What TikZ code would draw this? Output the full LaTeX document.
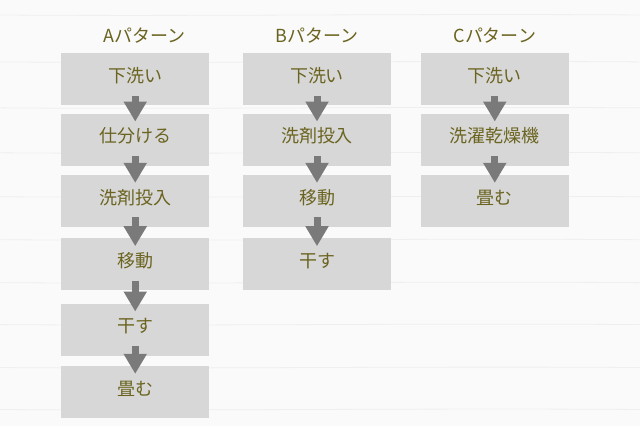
\documentclass[tikz,border=0pt]{standalone}
\usepackage{fontspec}
\setmainfont{Noto Sans CJK JP}
\usetikzlibrary{positioning,arrows.meta}
\definecolor{boxgray}{HTML}{D7D7D7}
\definecolor{textolive}{HTML}{6B6420}
\definecolor{arrowgray}{HTML}{7A7A7A}
\definecolor{wallwhite}{HTML}{FAFAFA}
\definecolor{wallline}{HTML}{EFEFEF}

\begin{document}
\begin{tikzpicture}[x=1pt,y=-1pt,
  taskbox/.style={fill=boxgray,minimum width=148pt,minimum height=52pt,inner sep=0pt,
    text=textolive,font=\fontsize{18}{18}\selectfont,text height=13pt,text depth=7pt},
  patternhead/.style={text=textolive,font=\fontsize{18}{18}\selectfont,inner sep=0pt,
    text height=13pt,text depth=7pt},
  flow/.style={arrowgray,line width=7pt,-{Triangle[width=22pt,length=20pt]}},
  node distance=9pt]

\fill[wallwhite] (0,0) rectangle (640,427);
\foreach \y in {15,62,108,153,197,240,283,325,368,410}
  \draw[wallline,line width=0.8pt] (0,\y) .. controls (200,\y+1.5) and (420,\y-1.5) .. (640,\y);

\node[taskbox] (a1) at (135,79.5) {下洗い};
\node[taskbox,below=8pt of a1] (a2) {仕分ける};
\node[taskbox,below=of a2] (a3) {洗剤投入};
\node[taskbox,below=11pt of a3] (a4) {移動};
\node[taskbox,below=13pt of a4] (a5) {干す};
\node[taskbox,below=10pt of a5] (a6) {畳む};

\node[taskbox] (b1) at (317,79.5) {下洗い};
\node[taskbox,below=8pt of b1] (b2) {洗剤投入};
\node[taskbox,below=of b2] (b3) {移動};
\node[taskbox,below=11pt of b3] (b4) {干す};

\node[taskbox] (c1) at (495,79.5) {下洗い};
\node[taskbox,below=8pt of c1] (c2) {洗濯乾燥機};
\node[taskbox,below=of c2] (c3) {畳む};

\node[patternhead,above=4pt of a1,xshift=9pt] (headA) {Aパターン};
\node[patternhead,above=4pt of b1] (headB) {Bパターン};
\node[patternhead,above=4pt of c1] (headC) {Cパターン};

\foreach \u/\v in {a1/a2,a2/a3,a3/a4,a4/a5,a5/a6,b1/b2,b2/b3,b3/b4,c1/c2,c2/c3}
  \draw[flow] ([yshift=10pt]\u.south) -- ([yshift=-8pt]\v.north);

\end{tikzpicture}
\end{document}
